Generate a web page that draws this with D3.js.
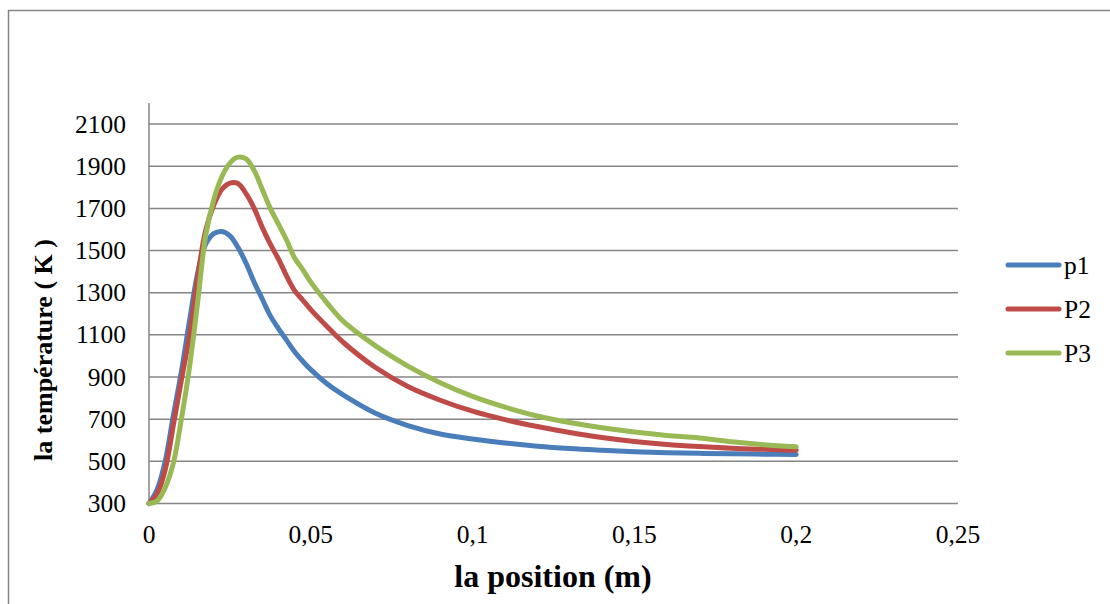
<!DOCTYPE html>
<html><head><meta charset="utf-8">
<script src="https://cdn.jsdelivr.net/npm/d3@7"></script>
<style>body{margin:0;background:#fff}svg{display:block}</style>
</head><body>
<svg id="c" width="1110" height="604"></svg>
<script>
const positions = [0,0.0025,0.005,0.0075,0.01,0.0125,0.015,0.0175,0.02,0.0225,0.025,0.0275,0.03,0.0325,0.035,0.0375,0.04,0.0425,0.045,0.0475,0.05,0.055,0.06,0.07,0.08,0.09,0.1,0.11,0.12,0.13,0.14,0.15,0.16,0.17,0.18,0.19,0.2];
const p1 = [300,365,500,715,925,1165,1390,1530,1580,1590,1570,1515,1440,1350,1270,1190,1130,1075,1020,975,935,868,815,728,670,630,606,587,572,561,553,546,541,538,536,534,533];
const p2 = [300,345,460,670,885,1095,1370,1595,1715,1790,1820,1818,1770,1700,1610,1530,1460,1380,1310,1265,1220,1140,1065,945,855,790,738,698,665,637,613,594,580,570,562,557,553];
const p3 = [300,312,375,490,700,945,1250,1570,1740,1850,1915,1943,1935,1880,1790,1700,1625,1550,1465,1410,1350,1252,1165,1048,952,873,808,757,715,684,659,639,623,611,593,579,569];
const seriesNames = ["p1","P2","P3"];
const seriesColors = ["#4A7EBB","#BE4B48","#98B954"];
const yTicks = [300,500,700,900,1100,1300,1500,1700,1900,2100];
const xTicks = [0,0.05,0.1,0.15,0.2,0.25];

const svg = d3.select("#c");
const font = "'Liberation Serif','Times New Roman',serif";
const grid = "#868686";

svg.append("rect").attr("x",8.5).attr("y",10.5).attr("width",1200).attr("height",700)
  .attr("fill","none").attr("stroke",grid).attr("stroke-width",1.5);

const x = d3.scaleLinear().domain([0,0.25]).range([149,958]);
const y = d3.scaleLinear().domain([300,2200]).range([503.5,103]);

svg.append("g").selectAll("line").data(yTicks).join("line")
  .attr("x1",149).attr("x2",958).attr("y1",d=>y(d)).attr("y2",d=>y(d))
  .attr("stroke",grid).attr("stroke-width",1.5);
svg.append("line").attr("x1",149).attr("x2",149).attr("y1",103).attr("y2",503.5)
  .attr("stroke",grid).attr("stroke-width",1.5);

const fmt = d => String(d).replace(".",",");
svg.append("g").selectAll("text").data(yTicks).join("text")
  .attr("x",126).attr("y",d=>y(d)+8.5).attr("text-anchor","end")
  .attr("font-family",font).attr("font-size",25.5).attr("fill","#000").text(d=>d);
svg.append("g").selectAll("text").data(xTicks).join("text")
  .attr("x",d=>x(d)).attr("y",543).attr("text-anchor","middle")
  .attr("font-family",font).attr("font-size",25.5).attr("fill","#000").text(fmt);

svg.append("text").attr("x",553).attr("y",587).attr("text-anchor","middle")
  .attr("font-family",font).attr("font-size",32).attr("font-weight","bold").text("la position (m)");
svg.append("text").attr("transform","translate(52,350) rotate(-90)").attr("text-anchor","middle")
  .attr("font-family",font).attr("font-size",26).attr("font-weight","bold").text("la température ( K )");

const line = d3.line().x((d,i)=>x(positions[i])).y(d=>y(d)).curve(d3.curveCatmullRom.alpha(0.5));
[p1,p2,p3].forEach((s,k)=>{
  svg.append("path").attr("d",line(s)).attr("fill","none").attr("stroke",seriesColors[k])
    .attr("stroke-width",5).attr("stroke-linecap","round").attr("stroke-linejoin","round");
});

const legY = [265,309,353];
seriesNames.forEach((n,k)=>{
  svg.append("line").attr("x1",1008).attr("x2",1059).attr("y1",legY[k]).attr("y2",legY[k])
    .attr("stroke",seriesColors[k]).attr("stroke-width",5).attr("stroke-linecap","round");
  svg.append("text").attr("x",1064).attr("y",legY[k]+8.5).attr("font-family",font)
    .attr("font-size",25.5).text(n);
});
</script>
</body></html>
